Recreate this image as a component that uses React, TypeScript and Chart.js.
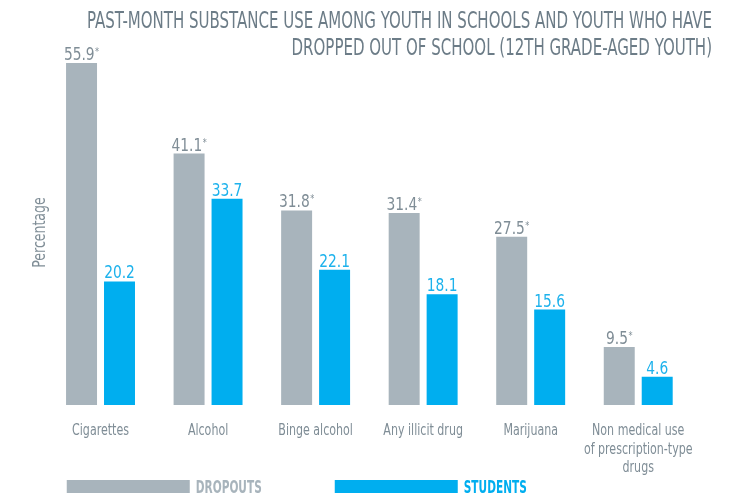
import React, { useEffect, useRef } from "react";
import { Chart, registerables } from "chart.js";

Chart.register(...registerables);

const categories: string[][] = [
  ["Cigarettes"],
  ["Alcohol"],
  ["Binge alcohol"],
  ["Any illicit drug"],
  ["Marijuana"],
  ["Non medical use", "of prescription-type", "drugs"],
];
const dropouts = [55.9, 41.1, 31.8, 31.4, 27.5, 9.5];
const students = [20.2, 33.7, 22.1, 18.1, 15.6, 4.6];
const dropoutSignificant = [true, true, true, true, true, true];
const seriesNames = ["DROPOUTS", "STUDENTS"];
const titleLines = [
  "PAST-MONTH SUBSTANCE USE AMONG YOUTH IN SCHOOLS AND YOUTH WHO HAVE",
  "DROPPED OUT OF SCHOOL (12TH GRADE-AGED YOUTH)",
];
const yAxisTitle = "Percentage";

const FONT = "'DejaVu Sans Condensed', 'DejaVu Sans', sans-serif";
const GREY = "#a8b4bc";
const BLUE = "#00aeef";
const TITLE_COLOR = "#6c7c87";
const TEXT_GREY = "#7f8d96";
const LABEL_BLUE = "#1db2ec";
const CONDENSE = 0.82;

// Emulate a condensed (DIN-like) face: every text run is squeezed horizontally.
function condenseContext(ctx: any) {
  if (!ctx || ctx.__condensed) return;
  ctx.__condensed = true;
  const origFill = ctx.fillText.bind(ctx);
  const origMeasure = ctx.measureText.bind(ctx);
  ctx.fillText = (text: string, x: number, y: number, maxWidth?: number) => {
    ctx.save();
    ctx.translate(x, y);
    ctx.scale(CONDENSE, 1);
    if (maxWidth !== undefined) origFill(text, 0, 0, maxWidth / CONDENSE);
    else origFill(text, 0, 0);
    ctx.restore();
  };
  ctx.measureText = (text: string) => {
    const m = origMeasure(text);
    return {
      width: m.width * CONDENSE,
      actualBoundingBoxLeft: m.actualBoundingBoxLeft * CONDENSE,
      actualBoundingBoxRight: m.actualBoundingBoxRight * CONDENSE,
      actualBoundingBoxAscent: m.actualBoundingBoxAscent,
      actualBoundingBoxDescent: m.actualBoundingBoxDescent,
      fontBoundingBoxAscent: m.fontBoundingBoxAscent,
      fontBoundingBoxDescent: m.fontBoundingBoxDescent,
    };
  };
}

const titlePlugin = {
  id: "condensedTitle",
  afterDraw(chart: any) {
    const ctx = chart.ctx;
    ctx.save();
    ctx.font = `23px ${FONT}`;
    ctx.fillStyle = TITLE_COLOR;
    const w = ctx.measureText(titleLines[0]).width;
    const sx = 625 / w;
    const right = chart.width - 32;
    titleLines.forEach((line, i) => {
      ctx.save();
      ctx.translate(right, 28 + i * 27);
      ctx.scale(sx, 1);
      ctx.textAlign = "right";
      ctx.textBaseline = "alphabetic";
      ctx.fillText(line, 0, 0);
      ctx.restore();
    });
    ctx.restore();
  },
};

const valueLabelPlugin = {
  id: "valueLabels",
  afterDatasetsDraw(chart: any) {
    const ctx = chart.ctx;
    const widen = 1.1;
    ctx.save();
    chart.data.datasets.forEach((ds: any, di: number) => {
      const meta = chart.getDatasetMeta(di);
      meta.data.forEach((bar: any, i: number) => {
        const v = ds.data[i] as number;
        const txt = v.toFixed(1);
        const star = di === 0 && dropoutSignificant[i] ? "*" : "";
        ctx.font = `17px ${FONT}`;
        const tw = ctx.measureText(txt).width * widen;
        ctx.font = `11px ${FONT}`;
        const sw = star ? ctx.measureText(star).width + 0.5 : 0;
        const total = tw + sw;
        const x0 = bar.x - total / 2;
        const y = bar.y - 3;
        ctx.fillStyle = di === 0 ? TEXT_GREY : LABEL_BLUE;
        ctx.textAlign = "left";
        ctx.textBaseline = "alphabetic";
        ctx.font = `17px ${FONT}`;
        ctx.save();
        ctx.translate(x0, y);
        ctx.scale(widen, 1);
        ctx.fillText(txt, 0, 0);
        ctx.restore();
        if (star) {
          ctx.font = `11px ${FONT}`;
          ctx.fillText(star, x0 + tw + 0.5, y - 5);
        }
      });
    });
    ctx.restore();
  },
};

const legendPlugin = {
  id: "barLegend",
  afterDraw(chart: any) {
    const ctx = chart.ctx;
    ctx.save();
    const boxW = 123;
    const boxH = 13;
    const top = 480;
    let x = chart.chartArea.left + 20;
    ctx.font = `bold 18px ${FONT}`;
    const sx = 66 / ctx.measureText(seriesNames[0]).width;
    chart.data.datasets.forEach((ds: any, i: number) => {
      ctx.fillStyle = ds.backgroundColor;
      ctx.fillRect(x, top, boxW, boxH);
      const tx = x + boxW + 6;
      ctx.fillStyle = i === 0 ? GREY : BLUE;
      ctx.save();
      ctx.translate(tx, top + boxH);
      ctx.scale(sx, 1);
      ctx.textAlign = "left";
      ctx.textBaseline = "alphabetic";
      ctx.fillText(ds.label, 0, 0);
      const tw = ctx.measureText(ds.label).width * sx;
      ctx.restore();
      x = tx + tw + 73;
    });
    ctx.restore();
  },
};

export default function App() {
  const ref = useRef<HTMLCanvasElement | null>(null);
  useEffect(() => {
    if (!ref.current) return;
    condenseContext(ref.current.getContext("2d"));
    const chart = new Chart(ref.current, {
      type: "bar",
      data: {
        labels: categories,
        datasets: [
          {
            label: seriesNames[0],
            data: dropouts,
            backgroundColor: GREY,
            categoryPercentage: 0.706,
            barPercentage: 0.816,
          },
          {
            label: seriesNames[1],
            data: students,
            backgroundColor: BLUE,
            categoryPercentage: 0.706,
            barPercentage: 0.816,
          },
        ],
      },
      options: {
        animation: false,
        responsive: true,
        maintainAspectRatio: false,
        layout: { padding: { left: 0, right: 52, top: 60, bottom: 0 } },
        plugins: {
          legend: { display: false },
          title: { display: false },
          tooltip: { enabled: false },
        },
        scales: {
          x: {
            grid: { display: false, drawTicks: false },
            border: { display: false },
            ticks: {
              color: TEXT_GREY,
              font: { family: FONT, size: 15, lineHeight: "18.5px" },
              padding: 17,
              maxRotation: 0,
              autoSkip: false,
            },
            afterFit: (scale: any) => {
              scale.height = 92;
            },
          },
          y: {
            min: 0,
            max: 56.4,
            grid: { display: false, drawTicks: false },
            border: { display: false },
            ticks: { display: false },
            title: {
              display: true,
              text: yAxisTitle,
              color: TEXT_GREY,
              font: { family: FONT, size: 17, lineHeight: 1 },
              padding: { top: 32.5, bottom: 0 },
            },
            afterFit: (scale: any) => {
              scale.width = 46.75;
            },
          },
        },
      },
      plugins: [titlePlugin, valueLabelPlugin, legendPlugin],
    });
    return () => chart.destroy();
  }, []);
  return (
    <div style={{ position: "fixed", left: 0, top: 0, width: 744, height: 497, background: "#fff" }}>
      <canvas ref={ref} />
    </div>
  );
}
